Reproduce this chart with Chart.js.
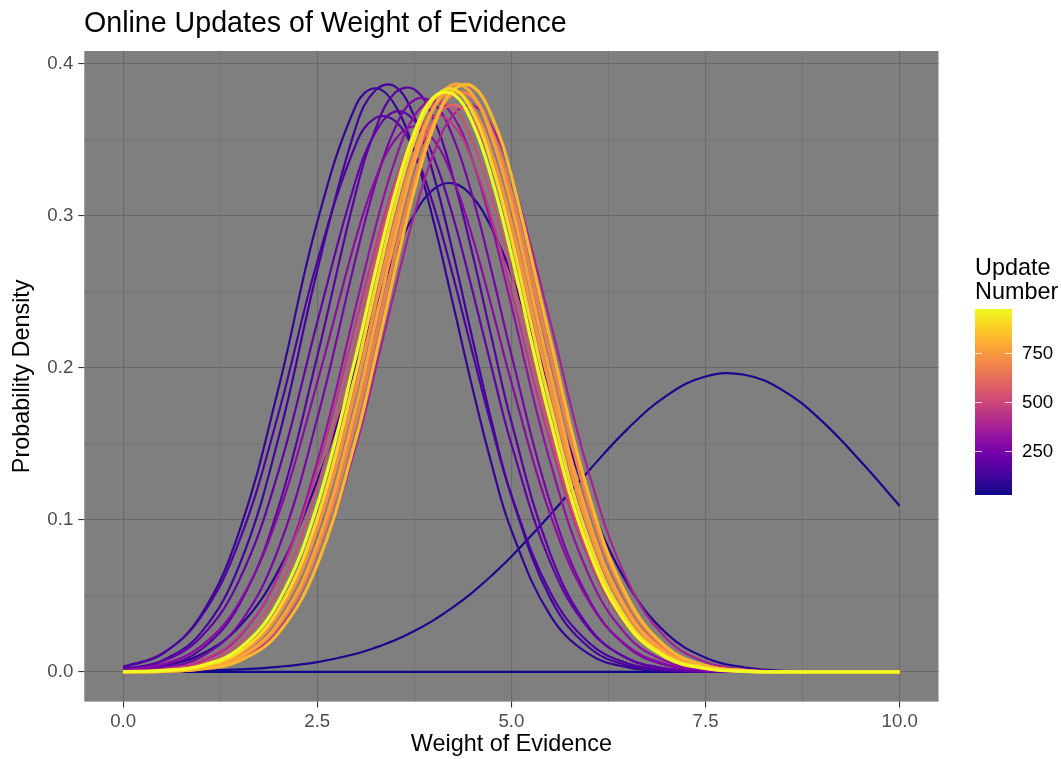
<!DOCTYPE html>
<html>
<head>
<meta charset="utf-8">
<title>Online Updates of Weight of Evidence</title>
<script src="https://cdn.jsdelivr.net/npm/chart.js@4.4.1/dist/chart.umd.min.js"></script>
<style>
  html, body { margin: 0; padding: 0; background: #ffffff; }
  canvas { display: block; }
</style>
</head>
<body>
<canvas id="woeChart" width="1061" height="759"></canvas>
<script>
var weightOfEvidence = [0, 0.5, 1, 1.5, 2, 2.5, 3, 3.25, 3.5, 3.75, 4, 4.25, 4.5, 4.75, 5, 5.5, 6, 6.5, 7, 7.5, 8, 8.5, 9, 9.5, 10];

// update number of each curve (colour scale)
var updateNumbers = [25, 50, 75, 100, 125, 150, 175, 200, 250, 300, 325, 375, 450, 525, 600, 675, 725, 775, 825, 900, 975];

// density values, one array per update
var update25  = [0, 0, 0, 0, 0, 0, 0, 0, 0, 0, 0, 0, 0, 0, 0, 0, 0, 0, 0, 0, 0, 0, 0, 0, 0];
var update50  = [0.0001, 0.0003, 0.0007, 0.0017, 0.0034, 0.0065, 0.012, 0.016, 0.0208, 0.0269, 0.0341, 0.0426, 0.0524, 0.0636, 0.0759, 0.1034, 0.1326, 0.1601, 0.1818, 0.1944, 0.1955, 0.1851, 0.165, 0.1384, 0.1092];
var update75  = [0.0011, 0.0037, 0.0115, 0.0301, 0.0668, 0.1257, 0.2013, 0.2399, 0.2743, 0.3011, 0.3176, 0.3214, 0.3124, 0.2915, 0.2613, 0.1858, 0.1121, 0.0576, 0.0252, 0.0094, 0.003, 0.0008, 0.0002, 0, 0];
var update100 = [0.003, 0.0117, 0.0372, 0.0932, 0.1865, 0.296, 0.373, 0.384, 0.373, 0.342, 0.296, 0.2417, 0.1865, 0.1358, 0.0932, 0.0372, 0.0117, 0.003, 0.0006, 0.0001, 0, 0, 0, 0, 0];
var update125 = [0.0018, 0.0074, 0.0257, 0.0706, 0.1537, 0.2641, 0.3589, 0.3829, 0.3852, 0.3653, 0.3265, 0.2753, 0.2188, 0.1639, 0.1159, 0.0486, 0.0161, 0.0042, 0.0009, 0.0001, 0, 0, 0, 0, 0];
var update150 = [0.0034, 0.012, 0.036, 0.0867, 0.1699, 0.27, 0.3475, 0.3645, 0.3626, 0.3421, 0.3064, 0.2602, 0.2098, 0.1605, 0.1164, 0.0524, 0.0191, 0.0056, 0.0014, 0.0003, 0.0001, 0, 0, 0, 0];
var update175 = [0.0008, 0.0039, 0.0146, 0.0447, 0.1081, 0.2077, 0.3161, 0.3573, 0.381, 0.3832, 0.3636, 0.3253, 0.2748, 0.2188, 0.1645, 0.0779, 0.0293, 0.0087, 0.0021, 0.0004, 0.0001, 0, 0, 0, 0];
var update200 = [0.0017, 0.0069, 0.0228, 0.0609, 0.1318, 0.2301, 0.3241, 0.355, 0.3686, 0.3627, 0.3383, 0.2991, 0.2505, 0.1991, 0.1498, 0.0723, 0.0282, 0.0089, 0.0023, 0.0005, 0.0001, 0, 0, 0, 0];
var update250 = [0.0005, 0.0025, 0.0098, 0.0318, 0.0812, 0.1667, 0.2731, 0.3215, 0.3577, 0.3763, 0.3742, 0.3517, 0.3126, 0.2627, 0.2087, 0.1113, 0.0476, 0.0161, 0.0044, 0.001, 0.0002, 0, 0, 0, 0];
var update300 = [0.0012, 0.005, 0.0168, 0.0462, 0.1036, 0.1905, 0.2858, 0.3244, 0.35, 0.359, 0.35, 0.3244, 0.2858, 0.2392, 0.1905, 0.1036, 0.0462, 0.0168, 0.005, 0.0012, 0.0002, 0, 0, 0, 0];
var update325 = [0.0003, 0.0017, 0.0069, 0.0234, 0.0634, 0.1382, 0.241, 0.2926, 0.3363, 0.3657, 0.376, 0.3657, 0.3363, 0.2926, 0.241, 0.1382, 0.0634, 0.0234, 0.0069, 0.0017, 0.0003, 0.0001, 0, 0, 0];
var update375 = [0.0001, 0.0004, 0.0021, 0.0084, 0.0272, 0.071, 0.1489, 0.199, 0.2515, 0.3012, 0.3413, 0.3665, 0.3726, 0.3586, 0.3268, 0.2305, 0.1306, 0.0595, 0.0219, 0.0065, 0.0016, 0.0003, 0.0001, 0, 0];
var update450 = [0.0004, 0.0019, 0.0073, 0.0239, 0.0624, 0.1332, 0.2302, 0.2795, 0.3222, 0.3524, 0.3656, 0.3599, 0.3361, 0.2978, 0.2503, 0.1512, 0.0738, 0.0294, 0.0094, 0.0025, 0.0005, 0.0001, 0, 0, 0];
var update525 = [0.0002, 0.0013, 0.0054, 0.0192, 0.0537, 0.1214, 0.2199, 0.2727, 0.32, 0.3552, 0.3734, 0.3713, 0.3494, 0.3113, 0.2624, 0.158, 0.0763, 0.0297, 0.0092, 0.0023, 0.0005, 0.0001, 0, 0, 0];
var update600 = [0.0001, 0.0009, 0.0038, 0.0138, 0.0409, 0.0979, 0.1886, 0.2409, 0.2917, 0.3344, 0.3629, 0.373, 0.3629, 0.3344, 0.2917, 0.1886, 0.0979, 0.0409, 0.0138, 0.0038, 0.0009, 0.0001, 0, 0, 0];
var update675 = [0.0001, 0.0004, 0.0023, 0.0093, 0.0306, 0.0798, 0.1658, 0.2194, 0.2745, 0.3239, 0.3611, 0.3802, 0.3781, 0.355, 0.3148, 0.2086, 0.1099, 0.0463, 0.0154, 0.0041, 0.0009, 0.0002, 0, 0, 0];
var update725 = [0.0001, 0.0006, 0.0032, 0.012, 0.0378, 0.094, 0.1868, 0.2417, 0.2952, 0.3407, 0.3712, 0.382, 0.3712, 0.3407, 0.2952, 0.1868, 0.094, 0.0378, 0.012, 0.0032, 0.0006, 0.0001, 0, 0, 0];
var update775 = [0.0001, 0.0004, 0.0023, 0.0097, 0.0322, 0.084, 0.1745, 0.2303, 0.2861, 0.3356, 0.3709, 0.3865, 0.3798, 0.3517, 0.3072, 0.1964, 0.0992, 0.0397, 0.0125, 0.0032, 0.0006, 0.0001, 0, 0, 0];
var update825 = [0, 0.0003, 0.0018, 0.0074, 0.0257, 0.0706, 0.1537, 0.2074, 0.2641, 0.3171, 0.3589, 0.3829, 0.3852, 0.3653, 0.3265, 0.2188, 0.1159, 0.0486, 0.0161, 0.0042, 0.0009, 0.0001, 0, 0, 0];
var update900 = [0.0001, 0.0007, 0.0035, 0.0132, 0.0411, 0.1008, 0.1973, 0.2531, 0.3063, 0.3498, 0.377, 0.3835, 0.3684, 0.334, 0.2856, 0.1758, 0.0859, 0.0333, 0.0103, 0.0025, 0.0005, 0.0001, 0, 0, 0];
var update975 = [0.0002, 0.0009, 0.0041, 0.0154, 0.0463, 0.1099, 0.2086, 0.2637, 0.3148, 0.355, 0.3781, 0.3802, 0.3611, 0.3239, 0.2745, 0.1658, 0.0798, 0.0306, 0.0093, 0.0023, 0.0004, 0.0001, 0, 0, 0];

var densities = [update25, update50, update75, update100, update125, update150, update175, update200,
  update250, update300, update325, update375, update450, update525, update600, update675,
  update725, update775, update825, update900, update975];

// axis ticks
var xTicks = [0, 2.5, 5, 7.5, 10];
var xTickLabels = ["0.0", "2.5", "5.0", "7.5", "10.0"];
var xMinorTicks = [1.25, 3.75, 6.25, 8.75];
var yTicks = [0, 0.1, 0.2, 0.3, 0.4];
var yTickLabels = ["0.0", "0.1", "0.2", "0.3", "0.4"];
var yMinorTicks = [0.05, 0.15, 0.25, 0.35];

// colour bar
var legendTicks = [250, 500, 750];
var updateMin = 25, updateMax = 976;

var plasma = ["#0d0887", "#41049d", "#6a00a8", "#8f0da4", "#b12a90", "#cc4778",
              "#e16462", "#f2844b", "#fca636", "#fcce25", "#f0f921"];

function hexRgb(h) {
  return [parseInt(h.substr(1, 2), 16), parseInt(h.substr(3, 2), 16), parseInt(h.substr(5, 2), 16)];
}
function plasmaColor(n) {
  var t = (n - updateMin) / (updateMax - updateMin);
  t = Math.max(0, Math.min(1, t));
  var p = t * (plasma.length - 1);
  var i = Math.min(Math.floor(p), plasma.length - 2);
  var f = p - i;
  var a = hexRgb(plasma[i]), b = hexRgb(plasma[i + 1]);
  return "rgb(" + Math.round(a[0] + (b[0] - a[0]) * f) + "," +
    Math.round(a[1] + (b[1] - a[1]) * f) + "," + Math.round(a[2] + (b[2] - a[2]) * f) + ")";
}

function near(list, v) {
  for (var i = 0; i < list.length; i++) if (Math.abs(list[i] - v) < 1e-6) return i;
  return -1;
}

var FONT = "'Liberation Sans', Arial, Helvetica, sans-serif";

var datasets = densities.map(function (arr, k) {
  var n = updateNumbers[k];
  return {
    label: "Update " + n,
    data: weightOfEvidence.map(function (x, i) { return { x: x, y: arr[i] }; }),
    borderColor: plasmaColor(n),
    borderWidth: n >= 650 ? 3.2 : 2.2,
    pointRadius: 0,
    fill: false,
    tension: 0.4,
    order: -n
  };
});

var decorations = {
  id: "decorations",
  beforeDraw: function (chart) {
    var ctx = chart.ctx, a = chart.chartArea;
    ctx.save();
    ctx.fillStyle = "#ffffff";
    ctx.fillRect(0, 0, chart.width, chart.height);
    ctx.fillStyle = "#7f7f7f";
    ctx.fillRect(a.left, a.top, a.right - a.left, a.bottom - a.top);
    ctx.restore();
  },
  afterDraw: function (chart) {
    var ctx = chart.ctx;
    ctx.save();
    // title
    ctx.fillStyle = "#000000";
    ctx.font = "28.6px " + FONT;
    ctx.textAlign = "left";
    ctx.textBaseline = "alphabetic";
    ctx.fillText("Online Updates of Weight of Evidence", 84, 32);

    // colour bar legend
    var bx = 975, bw = 37, top = 309, bottom = 495;
    ctx.font = "23.4px " + FONT;
    ctx.fillText("Update", bx, 275);
    ctx.fillText("Number", bx, 299);
    var g = ctx.createLinearGradient(0, bottom, 0, top);
    plasma.forEach(function (c, i) { g.addColorStop(i / (plasma.length - 1), c); });
    ctx.fillStyle = g;
    ctx.fillRect(bx, top, bw, bottom - top);
    ctx.strokeStyle = "rgba(255,255,255,0.75)";
    ctx.lineWidth = 1;
    ctx.font = "18.7px " + FONT;
    ctx.fillStyle = "#000000";
    ctx.textBaseline = "middle";
    legendTicks.forEach(function (v) {
      var y = bottom - (v - updateMin) / (updateMax - updateMin) * (bottom - top);
      y = Math.round(y) + 0.5;
      ctx.beginPath();
      ctx.moveTo(bx, y); ctx.lineTo(bx + 7, y);
      ctx.moveTo(bx + bw - 7, y); ctx.lineTo(bx + bw, y);
      ctx.stroke();
      ctx.fillText(String(v), 1022, y);
    });
    ctx.restore();
  }
};

var ctx = document.getElementById("woeChart");
var woeChart = new Chart(ctx, {
  type: "line",
  data: { datasets: datasets },
  plugins: [decorations],
  options: {
    responsive: false,
    animation: false,
    devicePixelRatio: 1,
    layout: { padding: { top: 51, right: 122.5, left: 0, bottom: 0 } },
    plugins: { legend: { display: false }, tooltip: { enabled: false }, title: { display: false } },
    scales: {
      x: {
        type: "linear",
        min: -0.5,
        max: 10.5,
        afterBuildTicks: function (scale) {
          scale.ticks = xTicks.concat(xMinorTicks).sort(function (a, b) { return a - b; })
            .map(function (v) { return { value: v }; });
        },
        afterFit: function (scale) { scale.height = 57.4; },
        border: { display: false },
        grid: {
          color: "#6b6b6b",
          lineWidth: function (c) { return near(xTicks, c.tick.value) >= 0 ? 1.1 : 0.55; },
          tickColor: function (c) { return near(xTicks, c.tick.value) >= 0 ? "#333333" : "rgba(0,0,0,0)"; },
          tickWidth: 1.1,
          tickLength: 6
        },
        ticks: {
          autoSkip: false,
          maxRotation: 0,
          padding: 3,
          color: "#4d4d4d",
          font: { family: FONT, size: 18.7 },
          callback: function (v) { var i = near(xTicks, v); return i >= 0 ? xTickLabels[i] : ""; }
        },
        title: {
          display: true,
          text: "Weight of Evidence",
          color: "#000000",
          font: { family: FONT, size: 23.4 },
          padding: { top: 0, bottom: 0 }
        }
      },
      y: {
        type: "linear",
        min: -0.0195,
        max: 0.4085,
        afterBuildTicks: function (scale) {
          scale.ticks = yTicks.concat(yMinorTicks).sort(function (a, b) { return a - b; })
            .map(function (v) { return { value: v }; });
        },
        afterFit: function (scale) { scale.width = 84.3; },
        border: { display: false },
        grid: {
          color: "#6b6b6b",
          lineWidth: function (c) { return near(yTicks, c.tick.value) >= 0 ? 1.1 : 0.55; },
          tickColor: function (c) { return near(yTicks, c.tick.value) >= 0 ? "#333333" : "rgba(0,0,0,0)"; },
          tickWidth: 1.1,
          tickLength: 6
        },
        ticks: {
          autoSkip: false,
          padding: 5,
          color: "#4d4d4d",
          font: { family: FONT, size: 18.7 },
          callback: function (v) { var i = near(yTicks, v); return i >= 0 ? yTickLabels[i] : ""; }
        },
        title: {
          display: true,
          text: "Probability Density",
          color: "#000000",
          font: { family: FONT, size: 23.4 },
          padding: { top: 9, bottom: 0 }
        }
      }
    }
  }
});
</script>
</body>
</html>
